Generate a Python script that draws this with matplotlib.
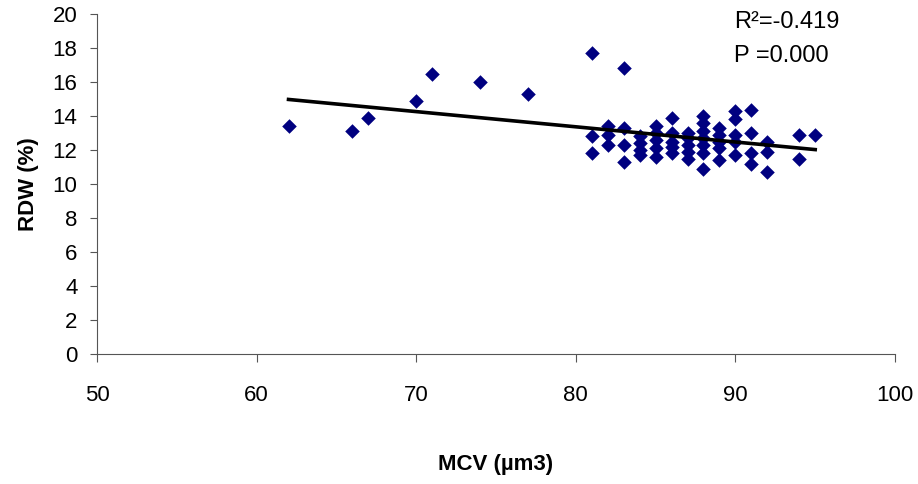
import numpy as np
import matplotlib.pyplot as plt

# MCV (um3) and RDW (%)
mcv = [62, 66, 67, 70, 71, 74, 77, 81, 83,
       81, 81, 82, 82, 82, 83, 83, 83,
       84, 84, 84, 84, 85, 85, 85, 85, 85,
       86, 86, 86, 86, 86, 87, 87, 87, 87, 87,
       88, 88, 88, 88, 88, 88, 88,
       89, 89, 89, 89, 89, 90, 90, 90, 90, 90,
       91, 91, 91, 91, 92, 92, 92, 94, 94, 95]
rdw = [13.4, 13.1, 13.9, 14.9, 16.5, 16.0, 15.3, 17.7, 16.8,
       12.8, 11.8, 13.4, 12.9, 12.3, 13.3, 12.3, 11.3,
       12.8, 12.4, 12.0, 11.7, 13.4, 13.0, 12.6, 12.1, 11.6,
       13.9, 13.0, 12.5, 12.2, 11.8, 13.0, 12.7, 12.3, 11.9, 11.5,
       14.0, 13.6, 13.1, 12.7, 12.3, 11.8, 10.9,
       13.3, 12.9, 12.5, 12.1, 11.4, 14.3, 13.8, 12.9, 12.5, 11.7,
       14.35, 13.0, 11.8, 11.2, 12.5, 11.9, 10.7, 12.9, 11.5, 12.9]

stats_lines = ["R²=-0.419", "P =0.000"]

plt.rcParams['font.family'] = ['Liberation Sans', 'DejaVu Sans']

fig = plt.figure(figsize=(9.18, 4.84), dpi=100)
ax = fig.add_axes([97 / 918, 1 - 354 / 484, (895 - 97) / 918, (354 - 14) / 484])

ax.scatter(mcv, rdw, marker='D', s=55, color='#000080', linewidths=0, zorder=3)

# linear trend line
slope, intercept = np.polyfit(mcv, rdw, 1)
xs = np.array([min(mcv), max(mcv)])
ax.plot(xs, slope * xs + intercept, color='black', lw=2.6, zorder=4)

ax.set_xlim(50, 100)
ax.set_ylim(0, 20)
ax.set_xticks(range(50, 101, 10))
ax.set_yticks(range(0, 21, 2))
ax.spines['top'].set_visible(False)
ax.spines['right'].set_visible(False)
for s in ('left', 'bottom'):
    ax.spines[s].set_color('#555555')
ax.tick_params(axis='x', direction='out', length=6, labelsize=16, pad=16,
               color='#555555')
ax.tick_params(axis='y', direction='out', length=5, labelsize=16, pad=9,
               color='#555555')

ax.set_xlabel("MCV (µm3)", fontsize=16, fontweight='bold', labelpad=35)
ax.set_ylabel("RDW (%)", fontsize=16, fontweight='bold', labelpad=10)

for i, line in enumerate(stats_lines):
    ax.text(0.798, 0.959 - 0.1 * i, line, transform=ax.transAxes, fontsize=17,
            va='baseline', ha='left')

fig.savefig("out.png", dpi=100)
